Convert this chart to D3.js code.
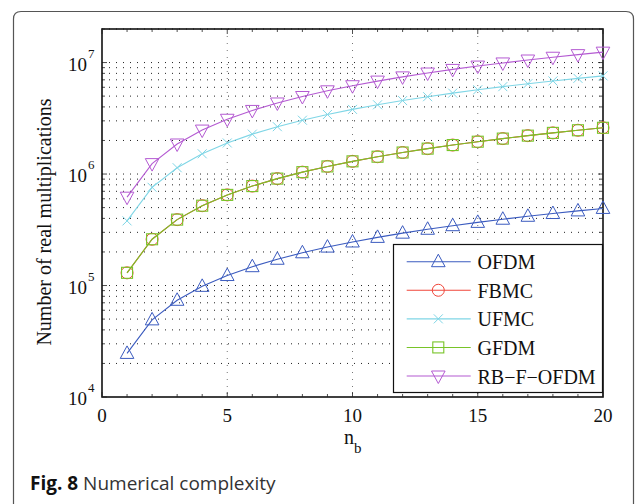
<!DOCTYPE html>
<html><head><meta charset="utf-8">
<script src="https://cdn.jsdelivr.net/npm/d3@7"></script>
<style>html,body{margin:0;padding:0;background:#fff;}svg{display:block;}</style>
</head><body>
<svg id="c" width="635" height="504"></svg>
<script>
const nb = [1,2,3,4,5,6,7,8,9,10,11,12,13,14,15,16,17,18,19,20];
const ofdm = [24600,49200,73700,98300,122900,147500,172000,196600,221200,245800,270300,294900,319500,344100,368600,393200,417800,442400,466900,491500];
const fbmc = [130000,260000,390000,520000,650000,780000,910000,1040000,1170000,1300000,1430000,1560000,1690000,1820000,1950000,2080000,2210000,2340000,2470000,2600000];
const ufmc = [380000,760000,1140000,1520000,1900000,2280000,2660000,3040000,3420000,3800000,4180000,4560000,4940000,5320000,5700000,6080000,6460000,6840000,7220000,7600000];
const gfdm = [130000,260000,390000,520000,650000,780000,910000,1040000,1170000,1300000,1430000,1560000,1690000,1820000,1950000,2080000,2210000,2340000,2470000,2600000];
const rbfofdm = [620000,1240000,1860000,2480000,3100000,3720000,4340000,4960000,5580000,6200000,6820000,7440000,8060000,8680000,9300000,9920000,10540000,11160000,11780000,12400000];
const seriesNames = ["OFDM","FBMC","UFMC","GFDM","RB\u2212F\u2212OFDM"];
const xTicks = [0,5,10,15,20];
const yExps = [4,5,6,7];

const series = [
  {name:seriesNames[0], vals:ofdm, color:"#3b5bbf", marker:"tri"},
  {name:seriesNames[1], vals:fbmc, color:"#f0463a", marker:"circle"},
  {name:seriesNames[2], vals:ufmc, color:"#7fd6e6", marker:"x"},
  {name:seriesNames[3], vals:gfdm, color:"#78c428", marker:"square"},
  {name:seriesNames[4], vals:rbfofdm, color:"#b45ad2", marker:"tridown"}
];

const svg = d3.select("#c");
const L=102, T=29, R=603, B=397;
const x = d3.scaleLinear().domain([0,20]).range([L,R]);
const y = d3.scaleLog().domain([1e4,2e7]).range([B,T]);
const serif = "'Liberation Serif','Times New Roman',serif";

// card
svg.append("path")
  .attr("d", `M13.5,560 L13.5,19 Q13.5,11.5 21,11.5 L626,11.5 Q633.5,11.5 633.5,19 L633.5,560`)
  .attr("fill","none").attr("stroke","#555").attr("stroke-width",1.2);

// grid
const g = svg.append("g");
const minorVals = [];
for (let e=4;e<=7;e++) for (let m=1;m<=9;m++){ const v=m*Math.pow(10,e); if(v<=2e7 && v>1e4) minorVals.push(v); }
g.selectAll("line.hg").data(minorVals).enter().append("line")
  .attr("x1",L).attr("x2",R).attr("y1",d=>y(d)).attr("y2",d=>y(d))
  .attr("stroke","#222").attr("stroke-width",1).attr("stroke-dasharray","1,6");
g.selectAll("line.vg").data([5,10,15]).enter().append("line")
  .attr("x1",d=>x(d)).attr("x2",d=>x(d)).attr("y1",T).attr("y2",B)
  .attr("stroke","#777").attr("stroke-width",1).attr("stroke-dasharray","1,6");

// axes frame
svg.append("rect").attr("x",L).attr("y",T).attr("width",R-L).attr("height",B-T)
  .attr("fill","none").attr("stroke","#111").attr("stroke-width",1.6);

// x ticks
const xMinor = d3.range(0,21);
const ax = svg.append("g");
ax.selectAll("line.xb").data(xMinor).enter().append("line")
  .attr("x1",d=>x(d)).attr("x2",d=>x(d)).attr("y1",B).attr("y2",d=>B-(d%5===0?5:3))
  .attr("stroke","#222").attr("stroke-width",0.8);
ax.selectAll("line.xt").data(xMinor).enter().append("line")
  .attr("x1",d=>x(d)).attr("x2",d=>x(d)).attr("y1",T).attr("y2",d=>T+(d%5===0?5:3))
  .attr("stroke","#222").attr("stroke-width",0.8);
// y ticks
ax.selectAll("line.yl").data(minorVals.concat([1e4])).enter().append("line")
  .attr("x1",L).attr("x2",d=>L+(Math.abs(Math.log10(d)%1)<1e-9?5:3)).attr("y1",d=>y(d)).attr("y2",d=>y(d))
  .attr("stroke","#222").attr("stroke-width",0.8);
ax.selectAll("line.yr").data(minorVals).enter().append("line")
  .attr("x1",R).attr("x2",d=>R-(Math.abs(Math.log10(d)%1)<1e-9?5:3)).attr("y1",d=>y(d)).attr("y2",d=>y(d))
  .attr("stroke","#222").attr("stroke-width",0.8);

// x tick labels
svg.selectAll("text.xl").data(xTicks).enter().append("text")
  .attr("x",d=>x(d)).attr("y",422).attr("text-anchor","middle")
  .attr("font-family",serif).attr("font-size",19).attr("fill","#111").text(d=>d);
// y tick labels
const yl = svg.selectAll("text.yl").data(yExps).enter().append("text")
  .attr("x",87).attr("y",d=>y(Math.pow(10,d))+8).attr("text-anchor","end")
  .attr("font-family",serif).attr("font-size",19).attr("fill","#111");
yl.text("10");
svg.selectAll("text.ye").data(yExps).enter().append("text")
  .attr("x",88).attr("y",d=>y(Math.pow(10,d))-5)
  .attr("font-family",serif).attr("font-size",13).attr("fill","#111").text(d=>d);

// axis labels
svg.append("text").attr("transform","translate(51,222) rotate(-90)").attr("text-anchor","middle")
  .attr("font-family",serif).attr("font-size",20).attr("fill","#111").text("Number of real multiplications");
const xl = svg.append("text").attr("x",344).attr("y",444).attr("font-family",serif).attr("font-size",20).attr("fill","#111");
xl.append("tspan").text("n");
xl.append("tspan").attr("dy",9).attr("font-size",15).text("b");

// markers
function drawMarker(sel, type, color){
  if(type==="tri"){
    sel.append("path").attr("d","M0,-7.5 L6.8,5 L-6.8,5 Z").attr("fill","none").attr("stroke",color).attr("stroke-width",1);
  } else if(type==="tridown"){
    sel.append("path").attr("d","M0,7.5 L6.8,-5 L-6.8,-5 Z").attr("fill","none").attr("stroke",color).attr("stroke-width",1);
  } else if(type==="circle"){
    sel.append("circle").attr("r",6).attr("fill","none").attr("stroke",color).attr("stroke-width",1);
  } else if(type==="square"){
    sel.append("rect").attr("x",-5.5).attr("y",-5.5).attr("width",11).attr("height",11).attr("fill","none").attr("stroke",color).attr("stroke-width",1.1);
  } else if(type==="x"){
    sel.append("path").attr("d","M-4.5,-4.5 L4.5,4.5 M-4.5,4.5 L4.5,-4.5").attr("fill","none").attr("stroke",color).attr("stroke-width",1);
  }
}

const line = d3.line().x(d=>x(d[0])).y(d=>y(d[1]));
series.forEach(s=>{
  const pts = nb.map((n,i)=>[n,s.vals[i]]);
  svg.append("path").datum(pts).attr("d",line).attr("fill","none").attr("stroke",s.color).attr("stroke-width",1.1);
  svg.selectAll(null).data(pts).enter().append("g")
    .attr("transform",d=>`translate(${x(d[0])},${y(d[1])})`)
    .each(function(){ drawMarker(d3.select(this), s.marker, s.color); });
});

// legend
const lg = svg.append("g");
lg.append("rect").attr("x",393.5).attr("y",244.5).attr("width",209).attr("height",148)
  .attr("fill","#fff").attr("stroke","#111").attr("stroke-width",1.2);
const ly = d3.scalePoint().domain(seriesNames).range([261.7,376]);
series.forEach(s=>{
  const yy = ly(s.name);
  lg.append("line").attr("x1",406.7).attr("x2",470.7).attr("y1",yy).attr("y2",yy).attr("stroke",s.color).attr("stroke-width",1.1);
  const m = lg.append("g").attr("transform",`translate(438.3,${yy})`);
  drawMarker(m, s.marker, s.color);
  lg.append("text").attr("x",477.5).attr("y",yy+7.6).attr("font-family",serif).attr("font-size",20).attr("fill","#111").text(s.name);
});

// caption
const cap = svg.append("text").attr("x",30).attr("y",490).attr("font-family","'Open Sans','Noto Sans',sans-serif").attr("font-size",19).attr("fill","#333");
cap.append("tspan").attr("font-weight","bold").attr("fill","#111").text("Fig. 8");
cap.append("tspan").text(" Numerical complexity");
</script>
</body></html>
